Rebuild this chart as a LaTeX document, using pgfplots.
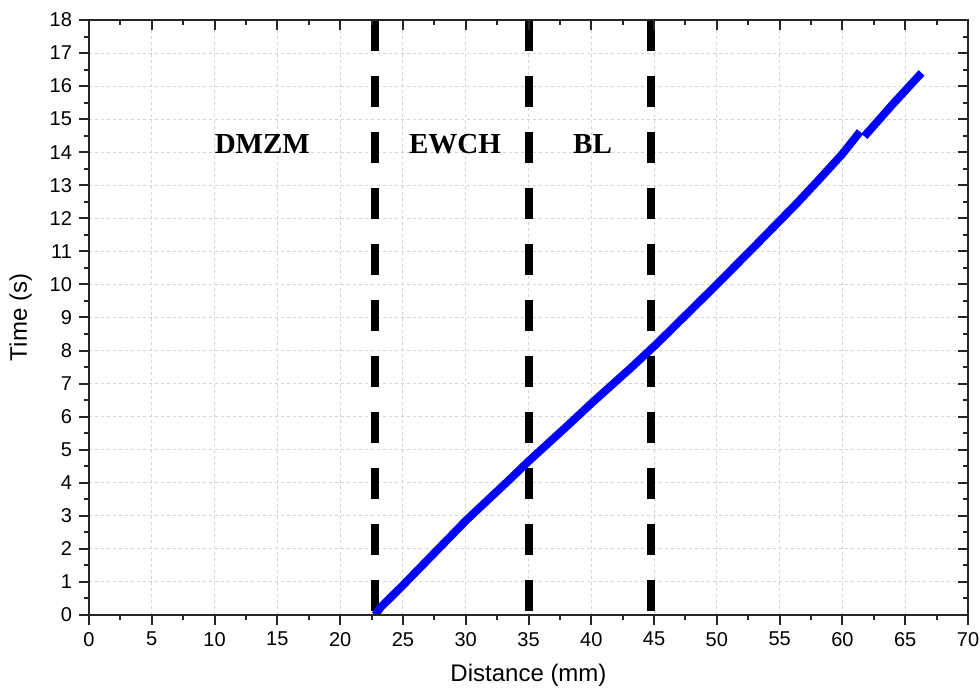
\documentclass[border=0pt]{standalone}
\usepackage{pgfplots}
\pgfplotsset{compat=1.18}
\usepackage{fontspec}
\setmainfont{Liberation Sans}
\newfontfamily\tnr{Liberation Serif}
\definecolor{gridgray}{RGB}{212,212,212}
\begin{document}
\begin{tikzpicture}
\pgfplotsset{
  common/.style={
    at={(0,0)}, anchor=south west,
    scale only axis,
    width=439.5pt, height=297.5pt,
    xmin=0, xmax=70, ymin=0, ymax=18,
    xtick={0,5,...,70}, ytick={0,1,...,18},
    minor x tick num=1, minor y tick num=1,
    major tick length=5pt, minor tick length=2.5pt,
    axis line style={line width=1pt, black!85},
    every tick/.style={line width=1pt, black!85},
    /pgf/number format/assume math mode=true,
    tick label style={font=\fontsize{10}{12}\selectfont},
    label style={font=\fontsize{12}{14}\selectfont},
  }
}
\begin{axis}[common,
  xtick pos=bottom, ytick pos=left, tick align=outside,
  grid=major,
  major grid style={gridgray, line width=0.5pt, dash pattern=on 1.5pt off 1.5pt},
  xlabel={Distance (mm)}, ylabel={Time (s)},
  xlabel style={yshift=-2pt},
  ylabel style={yshift=2pt},
]
\addplot[black, line width=4pt, dash pattern=on 15.5pt off 12.5pt] coordinates {(22.78,18) (22.78,0)};
\addplot[black, line width=4pt, dash pattern=on 15.5pt off 12.5pt] coordinates {(35.04,18) (35.04,0)};
\addplot[black, line width=4pt, dash pattern=on 15.5pt off 12.5pt] coordinates {(44.76,18) (44.76,0)};
\addplot[blue, line width=4pt, line join=round] coordinates {
(22.8,0) (23.2,0.22) (25,0.9) (27.95,2.05) (30.08,2.88) (33.5,4.1) (35,4.65)
(38.17,5.75) (40,6.4) (43.08,7.45) (45.2,8.2) (48,9.25) (50,10.0) (53,11.15)
(56.36,12.45) (58.2,13.2) (60,13.95) (61.4,14.62)
};
\addplot[blue, line width=4pt, line join=round] coordinates {
(61.75,14.48) (64,15.45) (66.3,16.4)
};
\node[font=\tnr\bfseries\fontsize{14.5}{16}\selectfont] at (axis cs:13.8,14.25) {DMZM};
\node[font=\tnr\bfseries\fontsize{14.5}{16}\selectfont] at (axis cs:29.15,14.25) {EWCH};
\node[font=\tnr\bfseries\fontsize{14.5}{16}\selectfont] at (axis cs:40.1,14.25) {BL};
\end{axis}
\begin{axis}[common,
  xtick pos=top, ytick pos=right, tick align=inside,
  xticklabels={}, yticklabels={},
]
\end{axis}
\pgfresetboundingbox
\path[use as bounding box] (-44.5pt,-40.5pt) rectangle (445.5pt,307.5pt);
\end{tikzpicture}
\end{document}
